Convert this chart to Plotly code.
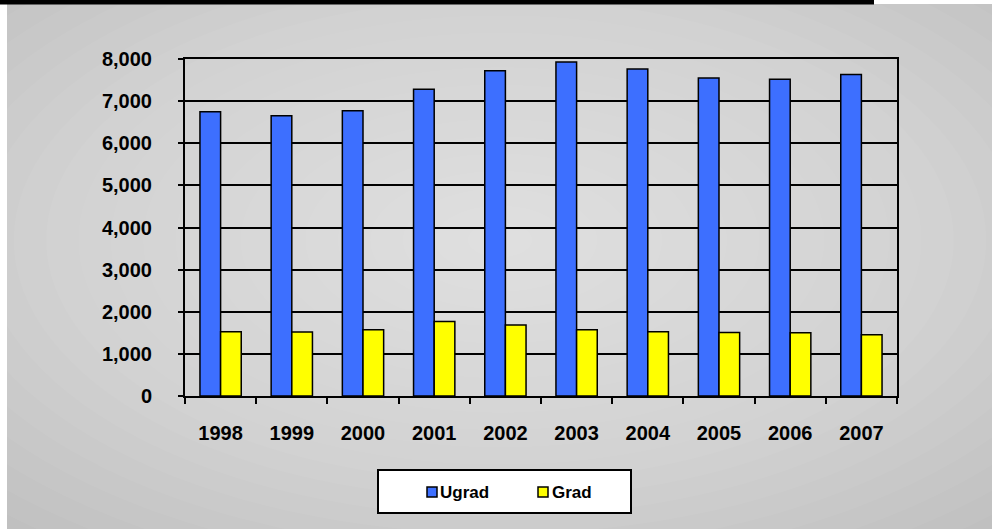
import plotly.graph_objects as go

years = ["1998", "1999", "2000", "2001", "2002", "2003", "2004", "2005", "2006", "2007"]
ugrad = [6750, 6650, 6770, 7280, 7720, 7930, 7760, 7550, 7520, 7630]
grad = [1525, 1520, 1574, 1767, 1686, 1574, 1525, 1508, 1500, 1452]
series_names = ["Ugrad", "Grad"]
series_colors = ["#3d6fff", "#ffff00"]

W, H = 992, 531
L, R, T, B = 185, 897, 59, 396  # plot area in px


def px_x(p):
    return (p - L) / (R - L)


def px_y(p):
    return (B - p) / (B - T)


font_family = "Liberation Sans, Arial, sans-serif"

fig = go.Figure()
for name, vals, col in zip(series_names, [ugrad, grad], series_colors):
    fig.add_trace(go.Bar(name=name, x=years, y=vals, showlegend=False,
                         marker=dict(color=col, line=dict(color="black", width=1.5))))

shapes = []
# gray background rectangle
shapes.append(dict(type="rect", xref="paper", yref="paper", layer="below",
                   x0=px_x(7), x1=px_x(992), y0=px_y(529), y1=px_y(4),
                   fillcolor="#c0c0c0", line=dict(width=0)))
# radial gradient approximation
cx, cy = 500, 240
hw, hh = 492, 262
N = 22
for i in range(N):
    s = 1.45 * (1 - i / N)
    shapes.append(dict(type="circle", xref="paper", yref="paper", layer="below",
                       x0=px_x(cx - hw * s), x1=px_x(cx + hw * s),
                       y0=px_y(cy + hh * s), y1=px_y(cy - hh * s),
                       fillcolor="rgba(255,255,255,0.042)", line=dict(width=0)))
# white left strip and bottom strip
shapes.append(dict(type="rect", xref="paper", yref="paper", layer="below",
                   x0=px_x(0), x1=px_x(7), y0=px_y(531), y1=px_y(0),
                   fillcolor="white", line=dict(width=0)))
shapes.append(dict(type="rect", xref="paper", yref="paper", layer="below",
                   x0=px_x(0), x1=px_x(992), y0=px_y(531), y1=px_y(529),
                   fillcolor="white", line=dict(width=0)))
# black top bar
shapes.append(dict(type="rect", xref="paper", yref="paper", layer="below",
                   x0=px_x(0), x1=px_x(874), y0=px_y(4.5), y1=px_y(0),
                   fillcolor="black", line=dict(width=0)))

# custom legend box
shapes.append(dict(type="rect", xref="paper", yref="paper", layer="above",
                   x0=px_x(378), x1=px_x(631), y0=px_y(513), y1=px_y(470),
                   fillcolor="white", line=dict(color="black", width=2)))
annotations = []
legend_sq_x = [427, 538]
legend_txt_x = [439, 551]
for name, col, sx, tx in zip(series_names, series_colors, legend_sq_x, legend_txt_x):
    shapes.append(dict(type="rect", xref="paper", yref="paper", layer="above",
                       x0=px_x(sx), x1=px_x(sx + 10), y0=px_y(497), y1=px_y(487),
                       fillcolor=col, line=dict(color="black", width=1.5)))
    annotations.append(dict(xref="paper", yref="paper", x=px_x(tx), y=px_y(492),
                            xanchor="left", yanchor="middle", showarrow=False,
                            text=name, borderpad=0,
                            font=dict(size=17, family=font_family, color="black",
                                      weight="bold")))

fig.update_layout(
    width=W, height=H,
    margin=dict(l=L, r=W - R, t=T, b=H - B, pad=0),
    paper_bgcolor="white",
    plot_bgcolor="#efefef",
    barmode="group",
    bargap=0.42,
    bargroupgap=0,
    shapes=shapes,
    annotations=annotations,
    font=dict(family=font_family, color="black", weight="bold"),
    showlegend=False,
)

fig.update_xaxes(
    type="category",
    showline=True, linecolor="black", linewidth=2, mirror=True,
    ticks="outside", tickson="boundaries", ticklen=6, tickwidth=2, tickcolor="black",
    tickfont=dict(size=20, family=font_family, color="black", weight="bold"),
    ticklabelstandoff=18,
    showgrid=False,
)
fig.update_yaxes(
    range=[0, 8000], dtick=1000, tickformat=",d",
    showline=True, linecolor="black", linewidth=2, mirror=True,
    ticks="outside", ticklen=5, tickwidth=2, tickcolor="black",
    tickfont=dict(size=20, family=font_family, color="black", weight="bold"),
    ticklabelstandoff=22,
    showgrid=True, gridcolor="black", gridwidth=2,
    zeroline=False,
)

fig.write_html("out.html", config={"displayModeBar": False},
               post_script="document.body.style.margin='0';document.body.style.overflow='hidden';")
